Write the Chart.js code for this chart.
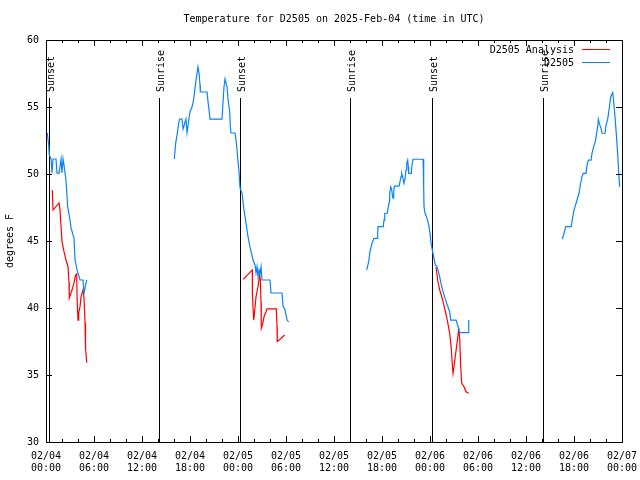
<!DOCTYPE html>
<html>
<head>
<meta charset="utf-8">
<title>Temperature for D2505</title>
<script src="https://cdn.jsdelivr.net/npm/chart.js@4"></script>
<style>
    html, body { margin: 0; padding: 0; background: #fff; }
    #wrap { width: 640px; height: 480px; }
</style>
</head>
<body>
<div id="wrap"><canvas id="tempChart" width="640" height="480"></canvas></div>
<script>
// Hours since 2025-02-04 00:00 UTC, temperatures in degrees F
const obsHours1 = [0.16, 0.34, 0.41, 0.63, 0.75, 0.88, 1.25, 1.38, 1.63, 1.88, 2.0, 2.13, 2.25, 2.38, 2.5, 2.71, 3.0, 3.13, 3.5, 3.63, 3.88, 4.25, 4.63, 4.75, 4.88, 5.09];
const obsTemps1 = [53.06, 52.16, 51.42, 51.12, 50.07, 51.12, 51.12, 50.07, 50.07, 51.12, 50.07, 51.12, 50.67, 50.07, 49.55, 47.56, 46.57, 45.97, 45.22, 43.58, 42.84, 42.09, 42.09, 41.12, 41.49, 42.09];

const obsHours2 = [16.04, 16.21, 16.38, 16.59, 16.71, 17.0, 17.13, 17.25, 17.38, 17.5, 17.63, 17.75, 17.88, 18.0, 18.21, 18.38, 18.5, 18.63, 18.75, 19.0, 19.13, 19.25, 19.29, 20.13, 20.25, 20.38, 20.5, 22.0, 22.13, 22.25, 22.38, 22.5, 22.63, 22.75, 22.96, 23.04, 23.13, 23.63, 23.75, 23.88, 24.0, 24.13, 24.25, 24.5, 24.75, 25.0, 25.25, 25.5, 25.88, 26.13, 26.25, 26.38, 26.5, 26.63, 26.75, 26.88, 27.0, 28.0, 28.13, 29.5, 29.63, 29.88, 30.13, 30.34];
const obsTemps2 = [51.12, 52.31, 52.91, 53.81, 54.1, 54.1, 53.36, 53.58, 53.88, 54.1, 53.08, 53.58, 54.2, 54.65, 54.93, 55.3, 55.77, 56.42, 57.01, 58.0, 57.54, 56.64, 56.12, 56.12, 55.4, 54.78, 54.1, 54.1, 55.4, 56.51, 57.09, 56.79, 56.51, 55.6, 54.65, 53.53, 53.06, 53.06, 52.54, 51.79, 50.92, 50.17, 48.96, 48.58, 47.31, 46.34, 45.32, 44.57, 43.58, 43.21, 42.61, 43.08, 42.34, 42.84, 42.54, 43.08, 42.09, 42.09, 41.12, 41.12, 40.15, 39.85, 39.1, 38.96];

const obsHours3 = [40.09, 40.34, 40.5, 40.75, 41.0, 41.38, 41.46, 41.5, 42.16, 42.25, 42.34, 42.66, 42.75, 42.91, 42.96, 43.09, 43.21, 43.29, 43.38, 43.46, 43.54, 44.13, 44.25, 44.38, 44.46, 44.63, 44.75, 44.88, 45.0, 45.09, 45.21, 45.29, 45.34, 45.66, 45.75, 45.88, 47.13, 47.21, 47.25, 47.38, 47.63, 47.84, 48.0, 48.13, 48.41, 48.66, 48.84, 49.0, 49.25, 49.41, 49.63, 49.88, 50.16, 50.46, 50.59, 51.25, 51.46, 51.71, 52.75, 52.84];
const obsTemps3 = [42.84, 43.46, 44.2, 44.83, 45.2, 45.2, 45.62, 46.07, 46.07, 46.57, 47.07, 47.07, 47.44, 47.93, 48.56, 49.05, 48.86, 48.43, 48.19, 48.56, 49.1, 49.1, 49.43, 49.8, 50.05, 49.68, 49.31, 49.68, 50.3, 50.8, 51.04, 50.54, 50.05, 50.05, 50.67, 51.1, 51.1, 49.05, 47.56, 47.07, 46.69, 46.19, 45.57, 44.83, 43.96, 43.21, 43.13, 42.84, 42.22, 41.72, 41.22, 40.72, 40.22, 39.72, 39.1, 39.1, 38.73, 38.16, 38.16, 39.1];

const obsHours4 = [64.54, 64.75, 64.96, 65.66, 65.84, 65.96, 66.13, 66.38, 66.63, 66.79, 67.0, 67.16, 67.5, 67.63, 67.79, 68.13, 68.25, 68.46, 68.66, 68.96, 69.04, 69.16, 69.38, 69.5, 69.88, 70.0, 70.21, 70.38, 70.59, 70.84, 70.91, 71.09, 71.25, 71.46, 71.59, 71.71];
const obsTemps4 = [45.13, 45.57, 46.07, 46.07, 46.81, 47.19, 47.56, 48.06, 48.56, 49.18, 49.8, 50.05, 50.05, 50.67, 51.04, 51.04, 51.54, 52.04, 52.41, 53.53, 54.08, 53.78, 53.41, 53.04, 53.04, 53.66, 54.08, 54.78, 55.77, 56.07, 55.65, 54.53, 53.28, 51.54, 50.05, 49.05];

const anaHours1 = [0.79, 0.88, 1.63, 1.75, 1.88, 2.0, 2.25, 2.5, 2.75, 2.88, 2.91, 3.25, 3.5, 3.7, 3.84, 3.88, 4.0, 4.09, 4.25, 4.38, 4.63, 4.75, 4.88, 4.94, 5.09];
const anaTemps1 = [48.81, 47.31, 47.84, 47.31, 46.07, 44.95, 44.2, 43.58, 43.08, 41.87, 40.75, 41.34, 41.87, 42.46, 42.54, 40.84, 39.1, 39.63, 40.1, 40.84, 41.34, 40.75, 38.88, 37.01, 35.92];

const anaHours2 = [24.66, 25.79, 25.8, 25.96, 26.04, 26.25, 26.5, 26.71, 26.79, 26.88, 26.91, 27.09, 27.25, 27.5, 27.63, 28.79, 28.88, 28.91, 29.84];
const anaTemps2 = [42.14, 42.84, 40.97, 39.1, 39.48, 40.84, 41.59, 42.46, 42.09, 40.37, 38.49, 38.81, 39.35, 39.72, 39.93, 39.93, 38.6, 37.49, 37.99];

const anaHours3 = [48.75, 48.96, 49.21, 49.41, 49.63, 49.88, 50.16, 50.46, 50.66, 50.79, 50.88, 51.0, 51.21, 51.46, 51.59, 51.71, 51.84, 51.96, 52.25, 52.5, 52.84];
const anaTemps3 = [43.08, 42.09, 41.34, 40.97, 40.47, 39.85, 39.1, 38.11, 36.99, 35.75, 35.13, 35.62, 36.62, 37.74, 38.49, 37.74, 35.62, 34.38, 34.13, 33.75, 33.63];

const sunHours = [0.41, 14.16, 24.25, 38.0, 48.3, 62.1];
const sunNames = ['Sunset', 'Sunrise', 'Sunset', 'Sunrise', 'Sunset', 'Sunrise'];

const seriesNames = ['D2505 Analysis', 'D2505'];
const seriesColors = ['#ff0000', '#0a84f5'];

const FONT_FAMILY = '"DejaVu Sans Mono", "Liberation Mono", monospace';
const FONT = '10px ' + FONT_FAMILY;

// Join segments into one point list, with a null point between segments
function buildPoints(hourSets, tempSets) {
    const pts = [];
    hourSets.forEach((hours, s) => {
        if (s > 0) pts.push({ x: hours[0], y: null });
        hours.forEach((h, i) => pts.push({ x: h, y: tempSets[s][i] }));
    });
    return pts;
}

function timeLabel(h) {
    const day = 4 + Math.floor(h / 24);
    const hh = h % 24;
    return ['02/0' + day, (hh < 10 ? '0' : '') + hh + ':00'];
}

// Frame, inward ticks, sun lines, title and legend
const gnuplotLook = {
    id: 'gnuplotLook',
    beforeDatasetsDraw(chart) {
        const ctx = chart.ctx;
        const area = chart.chartArea;
        const xs = chart.scales.x;
        ctx.save();
        ctx.strokeStyle = '#000';
        ctx.lineWidth = 1;
        ctx.fillStyle = '#000';
        ctx.font = FONT;
        sunHours.forEach((h, i) => {
            const px = Math.round(xs.getPixelForValue(h)) + 0.5;
            ctx.beginPath();
            ctx.moveTo(px, area.top + 58);
            ctx.lineTo(px, area.bottom);
            ctx.stroke();
            ctx.save();
            ctx.translate(px + 1.5, area.top + 52);
            ctx.rotate(-Math.PI / 2);
            ctx.textAlign = 'left';
            ctx.textBaseline = 'middle';
            ctx.fillText(sunNames[i], 0, 0);
            ctx.restore();
        });
        ctx.restore();
    },
    afterDatasetsDraw(chart) {
        const ctx = chart.ctx;
        const area = chart.chartArea;
        const xs = chart.scales.x;
        const ys = chart.scales.y;
        ctx.save();
        ctx.strokeStyle = '#000';
        ctx.lineWidth = 1;
        ctx.strokeRect(Math.round(area.left) + 0.5, Math.round(area.top) + 0.5,
            Math.round(area.right - area.left), Math.round(area.bottom - area.top));

        ctx.beginPath();
        for (let h = 0; h <= 72; h += 2) {
            const px = Math.round(xs.getPixelForValue(h)) + 0.5;
            const len = h % 6 === 0 ? 6 : 3;
            ctx.moveTo(px, area.bottom);
            ctx.lineTo(px, area.bottom - len);
            ctx.moveTo(px, area.top);
            ctx.lineTo(px, area.top + len);
        }
        for (let t = 30; t <= 60; t += 5) {
            const py = Math.round(ys.getPixelForValue(t)) + 0.5;
            ctx.moveTo(area.left, py);
            ctx.lineTo(area.left + 6, py);
            ctx.moveTo(area.right, py);
            ctx.lineTo(area.right - 6, py);
        }
        ctx.stroke();

        ctx.fillStyle = '#000';
        ctx.font = FONT;
        ctx.textAlign = 'center';
        ctx.textBaseline = 'middle';
        ctx.fillText('Temperature for D2505 on 2025-Feb-04 (time in UTC)', (area.left + area.right) / 2, 19);

        ctx.save();
        ctx.translate(10, (area.top + area.bottom) / 2);
        ctx.rotate(-Math.PI / 2);
        ctx.fillText('degrees F', 0, 0);
        ctx.restore();

        // legend, top right inside the frame
        ctx.textAlign = 'right';
        seriesNames.forEach((name, i) => {
            const py = area.top + 9.5 + i * 13;
            ctx.fillStyle = '#000';
            ctx.fillText(name, area.right - 48, py + 0.5);
            ctx.strokeStyle = seriesColors[i];
            ctx.beginPath();
            ctx.moveTo(area.right - 40, py);
            ctx.lineTo(area.right - 12, py);
            ctx.stroke();
        });
        ctx.restore();
    }
};

document.addEventListener('DOMContentLoaded', function() {
    const ctx = document.getElementById('tempChart').getContext('2d');
    new Chart(ctx, {
        type: 'line',
        data: {
            datasets: [
                {
                    label: seriesNames[1],
                    data: buildPoints([obsHours1, obsHours2, obsHours3, obsHours4], [obsTemps1, obsTemps2, obsTemps3, obsTemps4]),
                    borderColor: seriesColors[1],
                    borderWidth: 1.2,
                    pointRadius: 0,
                    tension: 0,
                    spanGaps: false
                },
                {
                    label: seriesNames[0],
                    data: buildPoints([anaHours1, anaHours2, anaHours3], [anaTemps1, anaTemps2, anaTemps3]),
                    borderColor: seriesColors[0],
                    borderWidth: 1.2,
                    pointRadius: 0,
                    tension: 0,
                    spanGaps: false
                }
            ]
        },
        options: {
            responsive: false,
            animation: false,
            devicePixelRatio: 1,
            layout: { padding: { left: 0, top: 40, right: 18, bottom: 0 } },
            plugins: {
                legend: { display: false },
                title: { display: false },
                tooltip: { enabled: false }
            },
            scales: {
                x: {
                    type: 'linear',
                    min: 0,
                    max: 72,
                    afterFit: function(scale) {
                        scale.height = 38;
                        scale.paddingLeft = 0;
                        scale.paddingRight = 0;
                    },
                    afterBuildTicks: function(scale) {
                        scale.ticks = [];
                        for (let h = 0; h <= 72; h += 6) scale.ticks.push({ value: h });
                    },
                    grid: { display: false, drawTicks: false },
                    border: { display: false },
                    ticks: {
                        autoSkip: false,
                        maxRotation: 0,
                        padding: 8,
                        color: '#000',
                        font: { family: FONT_FAMILY, size: 10 },
                        callback: function(value) { return timeLabel(value); }
                    }
                },
                y: {
                    min: 30,
                    max: 60,
                    afterFit: function(scale) {
                        scale.width = 46;
                        scale.paddingTop = 0;
                        scale.paddingBottom = 0;
                    },
                    grid: { display: false, drawTicks: false },
                    border: { display: false },
                    ticks: {
                        stepSize: 5,
                        padding: 7,
                        color: '#000',
                        font: { family: FONT_FAMILY, size: 10 }
                    }
                }
            }
        },
        plugins: [gnuplotLook]
    });
});
</script>
</body>
</html>
